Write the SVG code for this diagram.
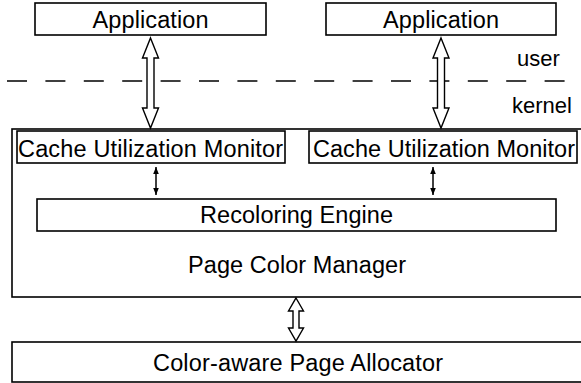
<svg xmlns="http://www.w3.org/2000/svg" width="581" height="383" viewBox="0 0 581 383">
<style>
.box{fill:#fff;stroke:#000;stroke-width:1.6}
.t{font-family:"Liberation Sans",Arial,sans-serif;font-size:23.5px;fill:#000;text-anchor:middle}
.s{font-family:"Liberation Sans",Arial,sans-serif;font-size:22px;fill:#000}
.ha{fill:#fff;stroke:#000;stroke-width:1.4;stroke-linejoin:miter}
.sa{stroke:#000;stroke-width:1.5;fill:none}
</style>
<defs>
<marker id="ah" markerWidth="8" markerHeight="8" refX="7" refY="4" orient="auto-start-reverse" markerUnits="userSpaceOnUse">
<path d="M0,1.2 L7,4 L0,6.8 Z" fill="#000"/>
</marker>
</defs>
<rect width="581" height="383" fill="#fff"/>
<g id="divider">
<line x1="7" y1="81" x2="566" y2="81" stroke="#000" stroke-width="1.6" stroke-dasharray="20 18.4"/>
<text class="s" x="517" y="66">user</text>
<text class="s" x="512" y="113">kernel</text>
</g>
<g id="app1"><rect class="box" x="35" y="3" width="231" height="32"/><text class="t" x="150.5" y="28" textLength="116">Application</text></g>
<g id="app2"><rect class="box" x="326" y="3" width="230" height="32"/><text class="t" x="441" y="28" textLength="116">Application</text></g>
<g id="pcm"><rect class="box" x="12" y="129" width="571" height="168"/><text class="t" x="297" y="273" textLength="218">Page Color Manager</text></g>
<g id="cum1"><rect class="box" x="17" y="131" width="268" height="32"/><text class="t" x="150.5" y="157" textLength="265">Cache Utilization Monitor</text></g>
<g id="cum2"><rect class="box" x="309" y="131" width="268" height="32"/><text class="t" x="444" y="157" textLength="262">Cache Utilization Monitor</text></g>
<g id="re"><rect class="box" x="37" y="199" width="519" height="32"/><text class="t" x="296.5" y="223" textLength="193">Recoloring Engine</text></g>
<g id="cpa"><rect class="box" x="12" y="342" width="571" height="40"/><text class="t" x="298" y="371" textLength="290">Color-aware Page Allocator</text></g>
<g id="connectors">
<path class="ha" d="M150.5,38 L158.5,58 L154,58 L154,108 L158.5,108 L150.5,128 L142.5,108 L147,108 L147,58 L142.5,58 Z"/>
<path class="ha" d="M441,38 L449,58 L444.5,58 L444.5,108 L449,108 L441,128 L433,108 L437.5,108 L437.5,58 L433,58 Z"/>
<path class="ha" d="M296,298 L303.5,311 L299,311 L299,328 L303.5,328 L296,341 L288.5,328 L293,328 L293,311 L288.5,311 Z"/>
<line class="sa" x1="156" y1="167" x2="156" y2="195" marker-start="url(#ah)" marker-end="url(#ah)"/>
<line class="sa" x1="433" y1="167" x2="433" y2="195" marker-start="url(#ah)" marker-end="url(#ah)"/>
</g>
</svg>
